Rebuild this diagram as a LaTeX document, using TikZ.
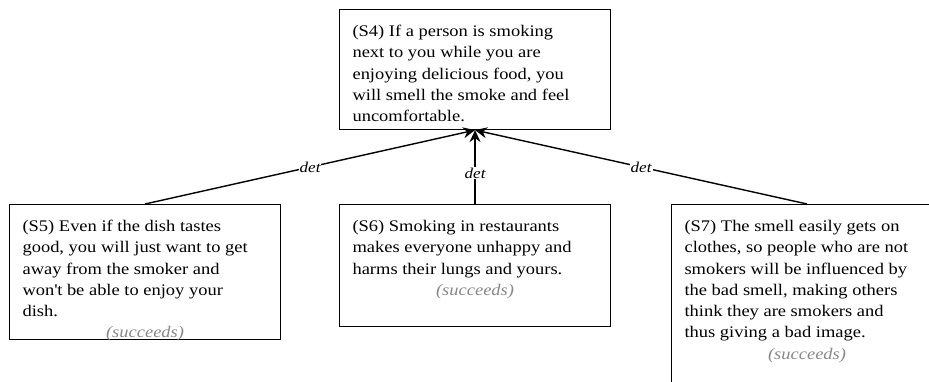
\documentclass[tikz,border=0pt]{standalone}
\usepackage{fontspec}
\setmainfont{Liberation Serif}[FakeStretch=1.14]
\usetikzlibrary{arrows.meta}
\definecolor{notegray}{RGB}{136,136,136}
% statement body: fixed-height, top-aligned paragraph
\newcommand{\stmtbody}[2]{\begin{minipage}[t][#1][t]{245pt}\raggedright\strut #2\end{minipage}}
\newcommand{\verdict}[1]{\par{\centering\color{notegray}\itshape #1\par}}
\tikzset{
  sbox/.style={draw, line width=1.1pt, anchor=north west, inner xsep=13pt, inner ysep=12pt,
    font=\fontsize{16.2}{21.3}\selectfont},
  link/.style={line width=1.4pt, -{Stealth[length=12pt,width=11pt,inset=4pt]}},
  rel/.style={fill=white, inner sep=1pt, font=\fontsize{15}{16}\selectfont\itshape}
}
\begin{document}
\begin{tikzpicture}[x=1pt, y=-1pt]
  \clip (0,0) rectangle (929,381);
  \fill[white] (0,0) rectangle (929,381);

  \node[sbox] (s4) at (339,9) {\stmtbody{96pt}{(S4) If a person is smoking\\
    next to you while you are\\
    enjoying delicious food, you\\
    will smell the smoke and feel\\
    uncomfortable.}};

  \node[sbox] (s5) at (9,204) {\stmtbody{111pt}{(S5) Even if the dish tastes\\
    good, you will just want to get\\
    away from the smoker and\\
    won\textquotesingle t be able to enjoy your\\
    dish.\verdict{(succeeds)}}};

  \node[sbox] (s6) at (339,204) {\stmtbody{98pt}{(S6) Smoking in restaurants\\
    makes everyone unhappy and\\
    harms their lungs and yours.\verdict{(succeeds)}}};

  \node[sbox] (s7) at (671,204) {\stmtbody{200pt}{(S7) The smell easily gets on\\
    clothes, so people who are not\\
    smokers will be influenced by\\
    the bad smell, making others\\
    think they are smokers and\\
    thus giving a bad image.\verdict{(succeeds)}}};

  \draw[link] (s5.north) -- node[rel, pos=0.5] {det} (s4.south);
  \draw[link] (s6.north) -- node[rel, pos=0.42] {det} (s4.south);
  \draw[link] (s7.north) -- node[rel, pos=0.5] {det} (s4.south);
\end{tikzpicture}
\end{document}
